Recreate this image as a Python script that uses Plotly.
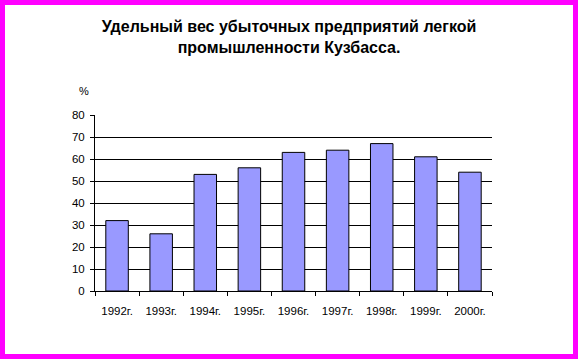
import plotly.graph_objects as go

categories = ["1992г.", "1993г.", "1994г.", "1995г.", "1996г.", "1997г.", "1998г.", "1999г.", "2000г."]
values = [32, 26, 53, 56, 63, 64, 67, 61, 54]
y_ticks = [0, 10, 20, 30, 40, 50, 60, 70, 80]

W, H = 578, 359
L, R, T, B = 95, 86, 115, 68
pw, ph = W - L - R, H - T - B

fig = go.Figure(go.Bar(
    x=categories, y=values,
    marker=dict(color="#9999FF", line=dict(color="black", width=1)),
))

font = "Liberation Sans, Arial, sans-serif"
fig.update_layout(
    width=W, height=H,
    margin=dict(l=L, r=R, t=T, b=B),
    paper_bgcolor="white", plot_bgcolor="white",
    bargap=0.49,
    showlegend=False,
    font=dict(family=font, color="black", size=11.5),
    title=dict(
        text="Удельный вес убыточных предприятий легкой<br>промышленности Кузбасса.",
        x=0.5, xref="container", xanchor="center",
        y=1 - 32 / H, yref="container", yanchor="middle",
        font=dict(family=font, size=16, color="black", weight="bold"),
    ),
    xaxis=dict(
        showline=True, linecolor="black", linewidth=1,
        ticks="outside", tickson="boundaries", ticklen=4, tickcolor="black",
        showgrid=False, tickfont=dict(size=11.5), ticklabelstandoff=9,
    ),
    yaxis=dict(
        range=[0, 80], tickvals=y_ticks,
        showline=True, linecolor="black", linewidth=1,
        ticks="outside", ticklen=4, tickcolor="black",
        showgrid=True, gridcolor="black", gridwidth=1,
        zeroline=False, tickfont=dict(size=11.5), ticklabelstandoff=3,
    ),
    annotations=[dict(
        text="%", x=(84 - L) / pw, y=(H - B - 91) / ph, xref="paper", yref="paper",
        showarrow=False, xanchor="center", yanchor="middle", font=dict(size=11),
    )],
    shapes=[dict(
        type="rect", xref="paper", yref="paper",
        x0=(2.5 - L) / pw, x1=(W - 2.5 - L) / pw,
        y0=(H - B - (H - 2.5)) / ph, y1=(H - B - 2.5) / ph,
        line=dict(color="#FF00FF", width=5), layer="above",
    )],
)

fig.write_html(
    "out.html",
    config={"displayModeBar": False},
    post_script="document.body.style.margin='0px';document.body.style.overflow='hidden';",
)
